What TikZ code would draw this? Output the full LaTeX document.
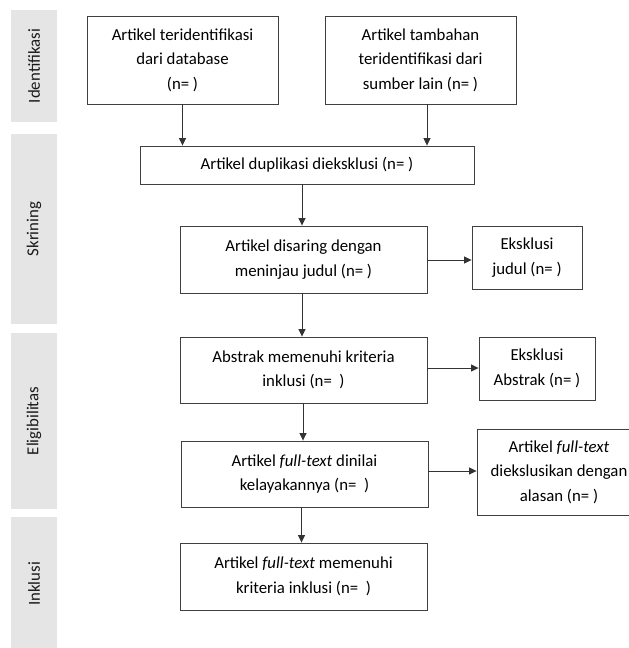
\documentclass[tikz,border=0pt]{standalone}
\usepackage{fontspec}
\setmainfont{Carlito}
\usetikzlibrary{arrows.meta,calc}
\begin{document}
\begin{tikzpicture}[x=1pt,y=-1pt,
  box/.style={draw=black!75, line width=0.9pt, rectangle, inner sep=0pt, align=center,
    font=\fontsize{16.8}{24.5}\selectfont, text=black},
  side/.style={fill=black!10, draw=none, inner sep=0pt},
  sidelabel/.style={rotate=90, font=\fontsize{16.8}{18}\selectfont, text=black!90},
  arr/.style={draw=black!80, line width=0.8pt, -{Triangle[width=7pt,length=7.5pt]}}]
\useasboundingbox (0,0) rectangle (629,648);
\clip (0,0) rectangle (629,648);
% side bars
\node[side, minimum width=46pt, minimum height=112pt] (s1) at (34,66) {};
\node[side, minimum width=46pt, minimum height=190pt] (s2) at (34,229) {};
\node[side, minimum width=46pt, minimum height=176pt] (s3) at (34,421) {};
\node[side, minimum width=46pt, minimum height=140pt] (s4) at (34,587) {};
\node[sidelabel] (l1) at (34,66) {Identifikasi};
\node[sidelabel] (l2) at (34,229) {Skrining};
\node[sidelabel] (l3) at (34,421) {Eligibilitas};
\node[sidelabel] (l4) at (34,584) {Inklusi};
% boxes
\node[box, minimum width=191pt, minimum height=88pt] (b1) at (182.5,60) {Artikel teridentifikasi\\dari database\\(n= )};
\node[box, minimum width=191pt, minimum height=88pt] (b2) at (420.5,60) {Artikel tambahan\\teridentifikasi dari\\sumber lain (n= )};
\node[box, minimum width=334pt, minimum height=38pt] (dup) at (307,165) {Artikel duplikasi dieksklusi (n= )};
\node[box, minimum width=247pt, minimum height=67pt] (scr) at (303.5,259.5) {Artikel disaring dengan\\meninjau judul (n= )};
\node[box, minimum width=110pt, minimum height=63pt] (exj) at (527,257.5) {Eksklusi\\judul (n= )};
\node[box, minimum width=247pt, minimum height=66pt] (abs) at (303.5,370) {Abstrak memenuhi kriteria\\inklusi (n=~~)};
\node[box, minimum width=116pt, minimum height=63pt] (exa) at (537,368.5) {Eksklusi\\Abstrak (n= )};
\node[box, minimum width=247pt, minimum height=66pt] (ft) at (304.5,474) {Artikel \textit{full-text} dinilai\\kelayakannya (n=~~)};
\node[box, minimum width=164pt, minimum height=86pt] (exf) at (559,472) {Artikel \textit{full-text}\\diekslusikan dengan\\alasan (n= )};
\node[box, minimum width=247pt, minimum height=67pt] (inc) at (303.5,576.5) {Artikel \textit{full-text} memenuhi\\kriteria inklusi (n=~~)};
% arrow anchor coordinates
\coordinate (b2s) at ($(b2.south)+(6.5,0)$);
\coordinate (scrn) at ($(scr.north)+(-1.5,0)$);
\coordinate (absn) at ($(abs.north)+(-1.5,0)$);
\coordinate (ftn) at ($(ft.north)+(-1.5,0)$);
\coordinate (incn) at ($(inc.north)+(-2,0)$);
\coordinate (scre) at ($(scr.east)+(0,0.5)$);
\coordinate (abse) at ($(abs.east)+(0,-2)$);
\coordinate (fte) at ($(ft.east)+(0,-3)$);
% arrows
\draw[arr] (b1.south) -- (b1.south |- dup.north);
\draw[arr] (b2s) -- (b2s |- dup.north);
\draw[arr] (scrn |- dup.south) -- (scrn);
\draw[arr] (scre) -- (scre -| exj.west);
\draw[arr] (absn |- scr.south) -- (absn);
\draw[arr] (abse) -- (abse -| exa.west);
\draw[arr] (ftn |- abs.south) -- (ftn);
\draw[arr] (fte) -- (fte -| exf.west);
\draw[arr] (incn |- ft.south) -- (incn);
\end{tikzpicture}
\end{document}
